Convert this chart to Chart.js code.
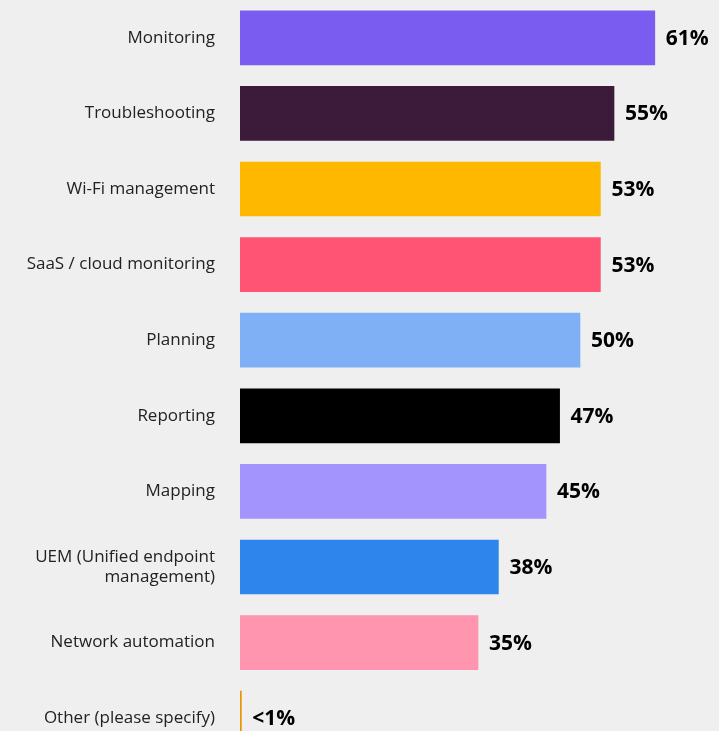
<!DOCTYPE html>
<html>
<head>
<meta charset="utf-8">
<script src="https://cdn.jsdelivr.net/npm/chart.js@4/dist/chart.umd.min.js"></script>
<style>
	html, body { margin: 0; padding: 0; background: #efefef; overflow: hidden; }
	canvas { display: block; }
</style>
</head>
<body>
<canvas id="toolsChart" width="719" height="756"></canvas>
<script>
const categories = [
	'Monitoring',
	'Troubleshooting',
	'Wi-Fi management',
	'SaaS / cloud monitoring',
	'Planning',
	'Reporting',
	'Mapping',
	['UEM (Unified endpoint', 'management)'],
	'Network automation',
	'Other (please specify)'
];
const shares = [61, 55, 53, 53, 50, 47, 45, 38, 35, 0.2];
const shareLabels = ['61%', '55%', '53%', '53%', '50%', '47%', '45%', '38%', '35%', '<1%'];
const barColors = [
	'#7b5cf1', '#3b1a3a', '#ffb800', '#ff5473', '#7fb0f6',
	'#000000', '#a294fc', '#2e86ec', '#ff95ae', '#e69500'
];

// writes the percentage just past the end of each bar
const valueLabels = {
	id: 'valueLabels',
	afterDatasetsDraw(chart) {
		const ctx = chart.ctx;
		const meta = chart.getDatasetMeta(0);
		ctx.save();
		ctx.font = 'bold 21px "Open Sans", sans-serif';
		ctx.fillStyle = '#000';
		ctx.textBaseline = 'middle';
		ctx.textAlign = 'left';
		meta.data.forEach(function(bar, i) {
			ctx.fillText(shareLabels[i], bar.x + 11, bar.y + 1);
		});
		ctx.restore();
	}
};

const ctx = document.getElementById('toolsChart').getContext('2d');
const chart = new Chart(ctx, {
	type: 'bar',
	data: {
		labels: categories,
		datasets: [{
			data: shares,
			backgroundColor: barColors,
			barThickness: 54,
			borderWidth: 0
		}]
	},
	options: {
		indexAxis: 'y',
		responsive: false,
		animation: false,
		layout: { padding: { top: 0, right: 3, bottom: 0, left: 0 } },
		plugins: {
			legend: { display: false },
			tooltip: { enabled: false }
		},
		scales: {
			x: {
				display: false,
				min: 0,
				max: 70
			},
			y: {
				grid: { display: false, drawTicks: false },
				border: { display: false },
				afterFit: function(scale) {
					scale.width = 240;
					scale.paddingTop = 0;
					scale.paddingBottom = 0;
				},
				ticks: {
					padding: 25,
					color: '#222',
					font: { family: '"Open Sans", sans-serif', size: 17, lineHeight: 1.2 }
				}
			}
		}
	},
	plugins: [valueLabels]
});
</script>
</body>
</html>
